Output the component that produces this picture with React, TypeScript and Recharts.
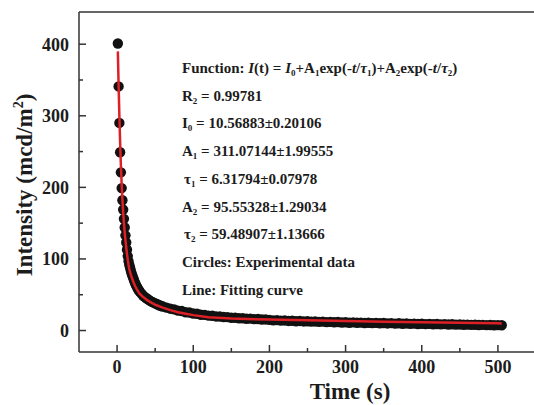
import { ComposedChart, ReferenceLine, Scatter, XAxis, YAxis } from "recharts";

const AXIS = "#333";
const INK = "#1c1c1c";
const FIT_RED = "#dd1f26";
const SERIF = "'Liberation Serif', 'Times New Roman', serif";

// measured afterglow decay, time in s, intensity in mcd/m2
const expTime = [
  1, 2, 3, 4, 5, 6, 7, 8, 9, 10, 11, 12, 13, 14, 15, 16, 17, 18, 19, 20, 21, 22, 23, 24, 25, 26, 27, 28, 29, 30,
  32, 34, 36, 38, 40, 42, 44, 46, 48, 50, 52, 54, 56, 58, 60,
  65, 70, 75, 80, 85, 90, 95, 100, 105, 110, 115, 120, 125, 130, 135, 140, 145, 150, 155, 160, 165, 170, 175, 180,
  185, 190, 195, 200, 205, 210, 215, 220, 225, 230, 235, 240, 245, 250, 255, 260, 265, 270, 275, 280, 285, 290,
  295, 300, 305, 310, 315, 320, 325, 330, 335, 340, 345, 350, 355, 360, 365, 370, 375, 380, 385, 390, 395, 400,
  405, 410, 415, 420, 425, 430, 435, 440, 445, 450, 455, 460, 465, 470, 475, 480, 485, 490, 495, 500, 505,
];
const expIntensity = [
  401, 341, 290, 249, 221, 199, 182, 169, 156, 144, 133, 123, 113, 104, 97, 92, 88, 84, 80, 77, 74, 71, 68, 65.5,
  63, 61, 59, 57, 55.5, 54,
  51.5, 49, 47, 45.5, 44, 42.5, 41, 40, 39, 38, 37, 36, 35, 34.3, 33.6,
  32, 30.5, 29.6, 27.8, 27.2, 25.6, 25.1, 23.7, 23.4, 22.1, 21.9, 20.8, 20.7, 19.7, 19.6, 18.8, 18.7, 17.9, 17.9,
  17.1, 17.2, 16.5, 16.6, 15.9, 16.0, 15.4, 15.5, 14.9, 14.2, 14.5, 13.8, 14.1, 13.4, 13.7, 13.0, 13.4, 12.7,
  13.0, 12.4, 12.7, 12.1, 12.4, 11.8, 12.1, 11.5, 11.9, 11.2, 11.6, 10.9, 11.4, 10.8, 11.1, 10.5, 10.9, 10.3,
  10.7, 10.1, 10.5, 9.9, 10.3, 9.7, 10.1, 9.5, 9.9, 9.3, 9.7, 9.1, 9.5, 8.9, 9.3, 8.7, 9.1, 8.6, 8.9, 8.4,
  8.7, 8.2, 8.5, 8.0, 8.3, 7.9, 8.1, 7.7, 7.9, 7.5, 7.7, 7.4, 7.5, 7.3,
];

// bi-exponential fitting curve
const fitTime = [
  1, 2, 3, 4, 5, 6, 7, 8, 9, 10, 11, 12, 13, 14, 15, 16, 17, 18, 19, 20, 22, 24, 26, 28, 30, 33, 36, 40, 45, 50,
  55, 60, 70, 80, 90, 100, 120, 150, 200, 250, 300, 350, 400, 450, 500, 505,
];
const fitIntensity = [
  390, 343, 300, 263, 231, 205, 183, 165, 150, 137, 126, 116, 107, 99, 92, 86, 82, 78, 75, 72, 66, 61.5, 57.5,
  54, 51, 48, 45.5, 42, 39, 36, 34, 32, 28.5, 25.5, 23.5, 21.5, 18.5, 16.8, 15.3, 14.3, 13.3, 12.4, 11.5, 10.7,
  10, 9.9,
];

const xTicks = [0, 50, 100, 150, 200, 250, 300, 350, 400, 450, 500];
const yTicks = [0, 50, 100, 150, 200, 250, 300, 350, 400];

const expData = expTime.map((t, i) => ({ t, v: expIntensity[i] }));
const fitData = fitTime.map((t, i) => ({ t, v: fitIntensity[i] }));

function XTick({ x, y, payload }: any) {
  const major = payload.value % 100 === 0;
  return (
    <g>
      <line x1={x} x2={x} y1={y} y2={y - (major ? 7 : 4)} stroke={AXIS} strokeWidth={1.5} />
      {major && (
        <text x={x} y={y + 21} textAnchor="middle" fontFamily={SERIF} fontWeight="bold" fontSize={18} fill={INK}>
          {payload.value}
        </text>
      )}
    </g>
  );
}

function YTick({ x, y, payload }: any) {
  const major = payload.value % 100 === 0;
  return (
    <g>
      <line x1={x} x2={x + (major ? 7 : 4)} y1={y} y2={y} stroke={AXIS} strokeWidth={1.5} />
      {major && (
        <text x={x - 10} y={y} dy="0.35em" textAnchor="end" fontFamily={SERIF} fontWeight="bold" fontSize={18} fill={INK}>
          {payload.value}
        </text>
      )}
    </g>
  );
}

const sub = { fontSize: 9, verticalAlign: -3, lineHeight: 0 } as const;

function FitNotes() {
  const rows = [
    <>
      Function: <i>I</i>(t) = <i>I</i>
      <sub style={sub}>0</sub>+A<sub style={sub}>1</sub>exp(-<i>t</i>/<i>τ</i>
      <sub style={sub}>1</sub>)+A<sub style={sub}>2</sub>exp(-<i>t</i>/<i>τ</i>
      <sub style={sub}>2</sub>)
    </>,
    <>
      R<sub style={sub}>2</sub> = 0.99781
    </>,
    <>
      I<sub style={sub}>0</sub> = 10.56883±0.20106
    </>,
    <>
      A<sub style={sub}>1</sub> = 311.07144±1.99555
    </>,
    <span style={{ paddingLeft: 2 }}>
      τ<sub style={sub}>1</sub> = 6.31794±0.07978
    </span>,
    <>
      A<sub style={sub}>2</sub> = 95.55328±1.29034
    </>,
    <span style={{ paddingLeft: 2 }}>
      τ<sub style={sub}>2</sub> = 59.48907±1.13666
    </span>,
    <>Circles: Experimental data</>,
    <>Line: Fitting curve</>,
  ];
  return (
    <>
      {rows.map((r, i) => (
        <div
          key={i}
          style={{
            position: "absolute",
            left: 182,
            top: 54 + i * 27.7,
            lineHeight: "28px",
            whiteSpace: "nowrap",
            fontFamily: SERIF,
            fontWeight: "bold",
            fontSize: 15,
            color: INK,
          }}
        >
          {r}
        </div>
      ))}
    </>
  );
}

export default function App() {
  return (
    <div
      style={{
        position: "absolute",
        left: 0,
        top: 0,
        width: 534,
        height: 405,
        overflow: "hidden",
        background: "#fff",
      }}
    >
      <ComposedChart width={540} height={405} margin={{ top: 12, right: 4, bottom: 0, left: 0 }}>
        <XAxis
          dataKey="t"
          type="number"
          domain={[-50, 550]}
          ticks={xTicks}
          interval={0}
          tick={<XTick />}
          tickLine={false}
          tickSize={0}
          tickMargin={0}
          height={53}
          axisLine={{ stroke: AXIS, strokeWidth: 1.5 }}
          allowDataOverflow
        />
        <YAxis
          dataKey="v"
          type="number"
          domain={[-30, 445]}
          ticks={yTicks}
          interval={0}
          tick={<YTick />}
          tickLine={false}
          tickSize={0}
          tickMargin={0}
          width={79}
          axisLine={{ stroke: AXIS, strokeWidth: 1.5 }}
          allowDataOverflow
        />
        <ReferenceLine y={445} stroke={AXIS} strokeWidth={1.5} />
        <ReferenceLine x={550} stroke={AXIS} strokeWidth={1.5} />
        <Scatter
          data={expData}
          dataKey="v"
          isAnimationActive={false}
          shape={(p: any) => <circle cx={p.cx} cy={p.cy} r={5.2} fill="#111" />}
        />
        {/* fit drawn as a joined scatter so it stays above the circles */}
        <Scatter
          data={fitData}
          dataKey="v"
          line={{ stroke: FIT_RED, strokeWidth: 2.5, strokeLinejoin: "round" }}
          lineType="joint"
          shape={() => <g />}
          isAnimationActive={false}
        />
      </ComposedChart>
      <FitNotes />
      <svg width={534} height={405} style={{ position: "absolute", left: 0, top: 0, pointerEvents: "none" }}>
        <text
          transform="translate(24,185) rotate(-90)"
          textAnchor="middle"
          dy="0.35em"
          fontFamily={SERIF}
          fontWeight="bold"
          fontSize={23}
          fill={INK}
        >
          Intensity (mcd/m
          <tspan dy={-9} fontSize={14}>
            2
          </tspan>
          <tspan dy={9}>)</tspan>
        </text>
        <text x={350} y={399} textAnchor="middle" fontFamily={SERIF} fontWeight="bold" fontSize={23} fill={INK}>
          Time (s)
        </text>
      </svg>
    </div>
  );
}
